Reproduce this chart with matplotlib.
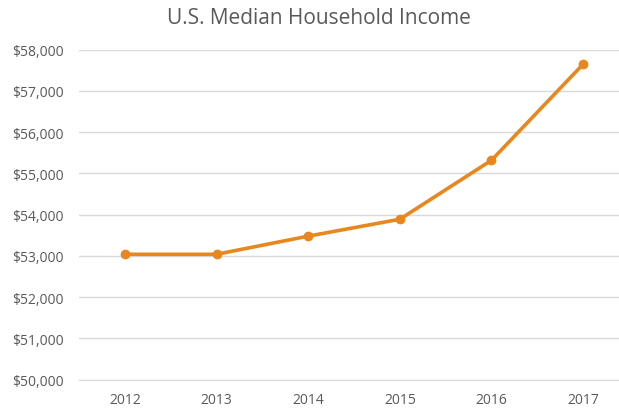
import matplotlib.pyplot as plt
from matplotlib.ticker import FuncFormatter

# data
years = ['2012', '2013', '2014', '2015', '2016', '2017']
income = [53040, 53040, 53480, 53890, 55320, 57650]

plt.rcParams['font.family'] = ['Open Sans', 'DejaVu Sans']

fig = plt.figure(figsize=(6.19, 4.10), dpi=100)
# axes runs a little past the right edge, like the cropped original
ax = fig.add_axes([79 / 619, 29.3 / 410, 550 / 619, 330 / 410])

x = list(range(len(years)))
ax.plot(x, income, color='#E8871E', linewidth=2.6, marker='o',
        markersize=6, zorder=3)

ax.set_xlim(-0.5, len(years) - 0.5)
ax.set_ylim(50000, 58000)
ax.set_yticks(range(50000, 58001, 1000))
ax.yaxis.set_major_formatter(FuncFormatter(lambda v, p: '${:,.0f}'.format(v)))
ax.set_xticks(x)
ax.set_xticklabels(years)

ax.grid(axis='y', color='#D9D9D9', linewidth=1)
ax.set_axisbelow(True)
for s in ax.spines.values():
    s.set_visible(False)
ax.spines['bottom'].set_visible(True)
ax.spines['bottom'].set_color('#D9D9D9')
ax.tick_params(length=0, labelsize=10, colors='#595959')
ax.tick_params(axis='x', pad=9)
ax.tick_params(axis='y', pad=11)

fig.text(0.515, 1 - 19 / 410, 'U.S. Median Household Income', ha='center',
         va='center', fontsize=15, color='#595959')

fig.savefig('out.png', dpi=100)
